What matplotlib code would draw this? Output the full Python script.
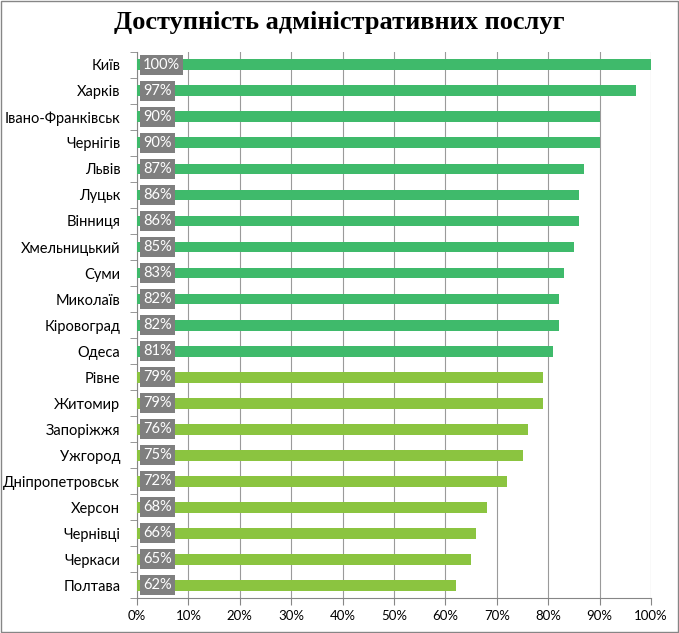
import matplotlib.pyplot as plt
from matplotlib.ticker import FuncFormatter

cities = ["Київ", "Харків", "Івано-Франківськ", "Чернігів", "Львів", "Луцьк",
          "Вінниця", "Хмельницький", "Суми", "Миколаїв", "Кіровоград", "Одеса",
          "Рівне", "Житомир", "Запоріжжя", "Ужгород", "Дніпропетровськ",
          "Херсон", "Чернівці", "Черкаси", "Полтава"]
values = [100, 97, 90, 90, 87, 86, 86, 85, 83, 82, 82, 81,
          79, 79, 76, 75, 72, 68, 66, 65, 62]

dark_green = "#3fba6b"
light_green = "#8bc440"
colors = [dark_green if v >= 80 else light_green for v in values]

plt.rcParams['font.family'] = ['Lato', 'DejaVu Sans']
fig = plt.figure(figsize=(6.79, 6.33), dpi=100)
ax = fig.add_axes([0.2018, 0.055, 0.757, 0.863])

y = list(range(len(cities)))
ax.barh(y, values, height=0.42, color=colors, zorder=3)
for yi, v in zip(y, values):
    ax.text(1.2, yi, f"{v}%", ha="left", va="center", color="white", fontsize=10.5,
            zorder=4, bbox=dict(boxstyle="square,pad=0.2", fc="#7f7f7f", ec="none"))

ax.set_ylim(len(cities) - 0.5, -0.5)
ax.set_xlim(0, 100)
ax.set_xticks(range(0, 101, 10))
ax.xaxis.set_major_formatter(FuncFormatter(lambda x, p: f"{int(x)}%"))
ax.set_yticks(y)
ax.set_yticklabels(cities, fontsize=10.5)
ax.set_yticks([i + 0.5 for i in range(-1, len(cities))], minor=True)
ax.tick_params(axis="y", which="major", length=0, pad=12)
ax.tick_params(axis="y", which="minor", length=5, color="#868686")
ax.tick_params(axis="x", length=5, color="#868686", labelsize=9.5)
ax.grid(axis="x", color="#9a9a9a", linewidth=0.8, zorder=0)
for s in ["top", "right"]:
    ax.spines[s].set_visible(False)
ax.spines["left"].set_color("#868686")
ax.spines["bottom"].set_color("#868686")

fig.text(0.5, 0.965, "Доступність адміністративних послуг", ha="center", va="center",
         fontsize=19, fontweight="bold", family="Liberation Serif")
fig.patches.append(plt.Rectangle((0.001, 0.001), 0.998, 0.998, transform=fig.transFigure,
                                 fill=False, ec="#868686", lw=1))

fig.savefig("out.png", dpi=100)
